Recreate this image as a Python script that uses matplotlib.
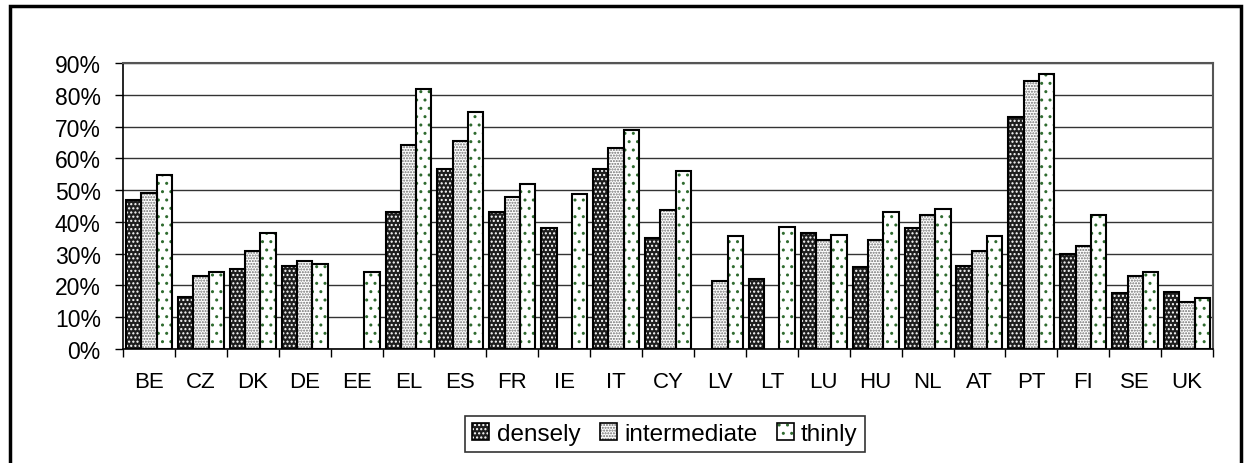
import numpy as np
import matplotlib.pyplot as plt
from matplotlib.patches import Rectangle, Patch

plt.rcParams['font.family'] = ['Liberation Sans', 'DejaVu Sans']

# Share of population by degree of urbanisation
countries = ["BE", "CZ", "DK", "DE", "EE", "EL", "ES", "FR", "IE", "IT", "CY",
             "LV", "LT", "LU", "HU", "NL", "AT", "PT", "FI", "SE", "UK"]
densely = [47, 16.5, 25.3, 26.2, np.nan, 43.2, 56.7, 43.2, 38.1, 56.7, 34.9,
           np.nan, 22.1, 36.6, 25.7, 38.2, 26.2, 73.1, 29.8, 17.5, 17.9]
intermediate = [49, 23.1, 30.8, 27.8, np.nan, 64.2, 65.3, 47.8, np.nan, 63.3, 43.7,
                21.5, np.nan, 34.4, 34.4, 42.2, 30.8, 84.4, 32.4, 23.1, 14.8]
thinly = [54.6, 24.1, 36.5, 26.7, 24.1, 81.8, 74.7, 51.9, 48.8, 68.9, 56.0,
          35.5, 38.5, 36.0, 43.2, 44.2, 35.5, 86.6, 42.3, 24.1, 15.9]

series = [
    ("densely", densely, "#1e1e1e", "white", "...."),
    ("intermediate", intermediate, "white", "#6e6e6e", "......"),
    ("thinly", thinly, "white", "#2f6b2f", ".."),
]

fig = plt.figure(figsize=(12.44, 4.64), dpi=100)
ax = fig.add_axes([0.0989, 0.2457, 0.8762, 0.6164])

x = np.arange(len(countries))
w = 0.295
handles = []
for i, (name, vals, fc, hc, hatch) in enumerate(series):
    pos = x + (i - 1) * w
    # fill + hatch first, then a black outline on top
    ax.bar(pos, vals, w, color=fc, edgecolor=hc, hatch=hatch, linewidth=0, zorder=2)
    ax.bar(pos, vals, w, fill=False, edgecolor="black", linewidth=1.5, zorder=3)
    handles.append((Patch(facecolor=fc, edgecolor=hc, hatch=hatch, linewidth=0),
                    Patch(fill=False, edgecolor="black", linewidth=1.2)))

ax.set_xlim(-0.5, len(countries) - 0.5)
ax.set_ylim(0, 90)
ax.set_yticks(np.arange(0, 91, 10))
ax.set_yticklabels([f"{v}%" for v in range(0, 91, 10)], fontsize=16.5)
ax.yaxis.grid(True, color="#333333", linewidth=1)
ax.set_axisbelow(True)

ax.set_xticks(x)
ax.set_xticklabels(countries, fontsize=16)
ax.set_xticks(np.arange(-0.5, len(countries), 1), minor=True)
ax.tick_params(axis="x", which="major", length=0, pad=16)
ax.tick_params(axis="x", which="minor", length=6, width=1, direction="out")
ax.tick_params(axis="y", length=6, width=1, direction="out", pad=10)

for s in ["left", "bottom"]:
    ax.spines[s].set_color("black")
    ax.spines[s].set_linewidth(1.2)
for s in ["top", "right"]:
    ax.spines[s].set_color("#555555")
    ax.spines[s].set_linewidth(1.5)

leg = fig.legend(handles, ["densely", "intermediate", "thinly"], loc="center",
                 bbox_to_anchor=(0.5346, 0.0625), ncol=3, fontsize=17.5,
                 frameon=True, fancybox=False, edgecolor="black",
                 handlelength=0.7, handleheight=0.7, handletextpad=0.3,
                 columnspacing=0.8, borderpad=0.3)
leg.get_frame().set_linewidth(1.2)

# outer chart frame (open at the bottom, as in the source)
fig.add_artist(Rectangle((10 / 1244, -0.1), 1231 / 1244, 1.1 - 7 / 464,
                         transform=fig.transFigure, fill=False,
                         edgecolor="black", linewidth=2.5))

fig.savefig("out.png", dpi=100)
